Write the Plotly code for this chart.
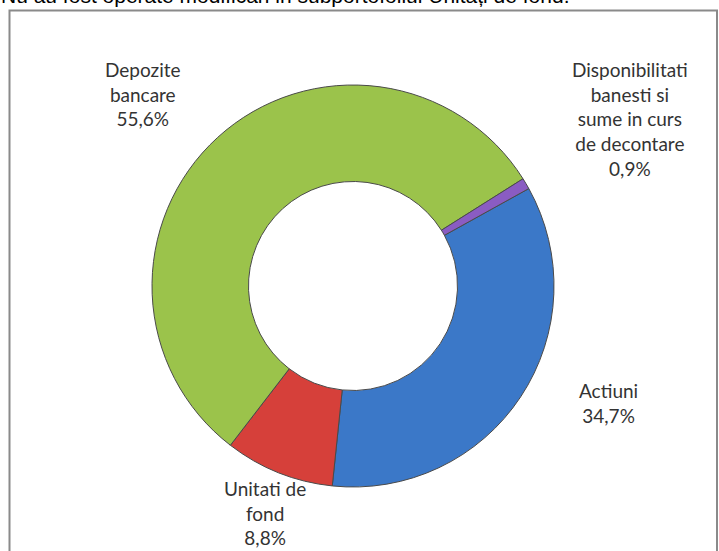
import plotly.graph_objects as go

# ---- data ----
categories = ["Actiuni", "Unitati de fond", "Depozite bancare",
              "Disponibilitati banesti si sume in curs de decontare"]
values = [34.7, 8.8, 55.6, 0.9]
label_text = ["Actiuni", "Unitati de<br>fond", "Depozite<br>bancare",
              "Disponibilitati<br>banesti si<br>sume in curs<br>de decontare"]
header_text = "Nu au fost operate modificari in subportofoliul Unitați de fond."

# ---- styles / layout positions ----
colors = ["#3B78C8", "#D6403A", "#9BC34B", "#8A5CC2"]
W, H = 719, 551
label_pos = [(608, 403), (265, 513), (143, 94), (630, 119)]  # pixel centres

cx, cy, R = 353, 286, 201


def px(x):
    return x / W


def py(y):
    return 1 - y / H


def fmt(v):
    return f"{v:.1f}".replace(".", ",") + "%"


fig = go.Figure(go.Pie(
    labels=categories,
    values=values,
    hole=0.52,
    sort=False,
    direction="clockwise",
    rotation=61,
    marker=dict(colors=colors, line=dict(color="#4a4a4a", width=1)),
    textinfo="none",
    hoverinfo="label+percent",
    showlegend=False,
    domain=dict(x=[px(cx - R), px(cx + R)], y=[py(cy + R), py(cy - R)]),
))

annotations = []
for txt, v, (x, y) in zip(label_text, values, label_pos):
    annotations.append(dict(
        text=f"{txt}<br>{fmt(v)}", x=px(x), y=py(y), xref="paper", yref="paper",
        xanchor="center", yanchor="middle", showarrow=False, align="center",
        font=dict(family="Lato", size=19, color="#333333"),
    ))

annotations.append(dict(
    text=header_text, x=px(-1), y=py(-4), xref="paper", yref="paper",
    xanchor="left", yanchor="middle", showarrow=False,
    font=dict(family="Liberation Sans, Arial", size=21, color="#000000"),
))

fig.update_layout(
    width=W, height=H,
    margin=dict(l=0, r=0, t=0, b=0),
    paper_bgcolor="white", plot_bgcolor="white",
    annotations=annotations,
    shapes=[dict(type="rect", xref="paper", yref="paper",
                 x0=px(9.5), x1=px(717), y0=py(560), y1=py(10.5),
                 line=dict(color="#8a8a8a", width=2), fillcolor="rgba(0,0,0,0)")],
)

fig.write_html("out.html")
